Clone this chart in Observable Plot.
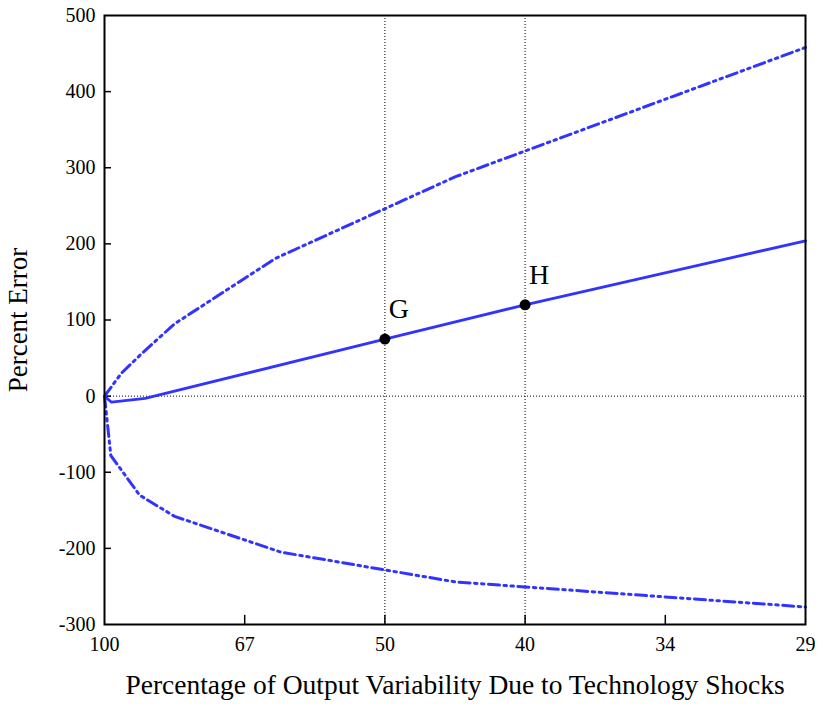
<!DOCTYPE html>
<html>
<head>
<meta charset="utf-8">
<script src="https://cdn.jsdelivr.net/npm/d3@7"></script>
<script src="https://cdn.jsdelivr.net/npm/@observablehq/plot@0.6"></script>
<style>
  html, body { margin: 0; padding: 0; background: #fff; }
  #chart svg { display: block; }
</style>
</head>
<body>
<div id="chart"></div>
<script>
// x positions are equally spaced steps; labels are the percentages shown
const xTickPos = [0, 1, 2, 3, 4, 5];
const xTickLabels = ["100", "67", "50", "40", "34", "29"];
const yTicks = [-300, -200, -100, 0, 100, 200, 300, 400, 500];

// solid central line
const midX = [0, 0.05, 0.29, 2, 3, 5];
const midY = [0, -8, -3, 75, 120, 204];
// upper dash-dot band
const upX = [0, 0.12, 0.26, 0.5, 1.22, 2.5, 5];
const upY = [0, 30, 55, 95, 181, 288, 458];
// lower dash-dot band
const loX = [0, 0.045, 0.25, 0.5, 1.26, 2.5, 5];
const loY = [0, -78, -130, -158, -205, -244, -277];
// marked points
const ptX = [2, 3];
const ptY = [75, 120];
const ptLabel = ["G", "H"];

const toRows = (xs, ys) => xs.map((x, i) => ({x, y: ys[i]}));
const mid = toRows(midX, midY);
const up = toRows(upX, upY);
const lo = toRows(loX, loY);
const pts = ptX.map((x, i) => ({x, y: ptY[i], label: ptLabel[i]}));

const blue = "#3333ff";
const dashDot = "11,4.5,2.5,4.5,2.5,4.5";
const serif = "'Liberation Serif', 'Times New Roman', serif";

const chart = Plot.plot({
  width: 817,
  height: 704,
  marginLeft: 104,
  marginRight: 12,
  marginTop: 15,
  marginBottom: 80,
  style: {fontFamily: serif, color: "black", background: "white"},
  x: {domain: [0, 5]},
  y: {domain: [-300, 500]},
  marks: [
    Plot.ruleY([0], {stroke: "black", strokeWidth: 1, strokeDasharray: "1,2"}),
    Plot.ruleX(ptX, {stroke: "black", strokeWidth: 1, strokeDasharray: "1,2"}),
    Plot.ruleX(xTickPos.slice(1, -1), {y1: -300, y2: -288, stroke: "black", strokeWidth: 1.5}),
    Plot.ruleY(yTicks.slice(1, -1), {x1: 0, x2: 0.05, stroke: "black", strokeWidth: 1.5}),
    Plot.axisX(xTickPos, {tickSize: 0, tickPadding: 12, fontSize: 20, tickFormat: (d) => xTickLabels[d], label: null}),
    Plot.axisY(yTicks, {tickSize: 0, tickPadding: 9, fontSize: 20, tickFormat: (d) => String(d), label: null}),
    Plot.line(up, {x: "x", y: "y", stroke: blue, strokeWidth: 3, strokeDasharray: dashDot}),
    Plot.line(lo, {x: "x", y: "y", stroke: blue, strokeWidth: 3, strokeDasharray: dashDot}),
    Plot.line(mid, {x: "x", y: "y", stroke: blue, strokeWidth: 2.8}),
    Plot.dot(pts, {x: "x", y: "y", r: 5.5, fill: "black"}),
    Plot.text(pts, {x: "x", y: "y", text: "label", dx: 14, dy: -30, fontSize: 28}),
    Plot.frame({stroke: "black", strokeWidth: 2}),
    Plot.text(["Percent Error"], {frameAnchor: "left", textAnchor: "middle", lineAnchor: "middle", dx: -86, rotate: -90, fontSize: 27}),
    Plot.text(["Percentage of Output Variability Due to Technology Shocks"], {frameAnchor: "bottom", textAnchor: "middle", lineAnchor: "middle", dy: 61, fontSize: 27.5})
  ]
});
document.getElementById("chart").appendChild(chart);
</script>
</body>
</html>
